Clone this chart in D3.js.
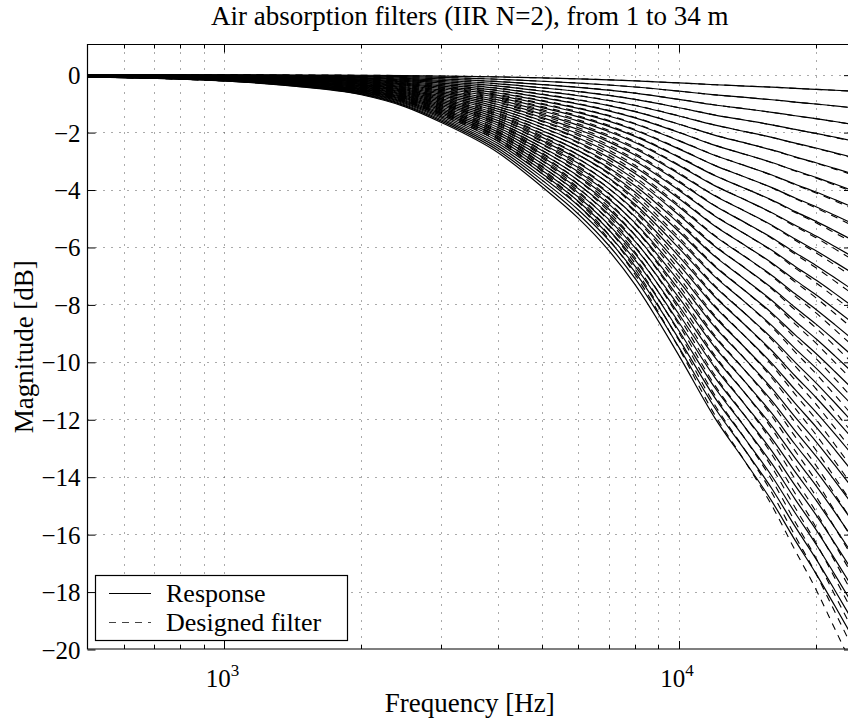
<!DOCTYPE html>
<html>
<head>
<meta charset="utf-8">
<script src="https://cdn.jsdelivr.net/npm/d3@7"></script>
<style>
  body { margin: 0; background: #fff; }
  svg text { font-family: "Liberation Serif", "DejaVu Serif", serif; fill: #000; }
  .tick text { font-size: 25px; }
  .label { font-size: 27px; }
</style>
</head>
<body>
<svg id="chart" width="848" height="722"></svg>
<script>
// distances of the filters, metres (from the title: 1 to 34 m)
const distances = d3.range(1, 35);

// frequency grid, Hz
const freqs = [500, 700, 1000, 1400, 2000, 2500, 3000, 4000, 5000, 6000, 7000,
               8000, 10000, 12000, 14000, 16000, 18000, 20000, 22000, 24000];

const alphaResponse = [0.0024, 0.0038, 0.0065, 0.0115, 0.0206, 0.0330, 0.049, 0.080,
                       0.115, 0.147, 0.180, 0.215, 0.288, 0.352, 0.397, 0.437,
                       0.477, 0.511, 0.544, 0.575];

// error of the designed IIR filter at 34 m (dB, + means less attenuation)
const designErr34 = [0, 0, 0, 0.05, 0.1, 0.18, 0.25, 0.4, 0.45, 0.45, 0.4,
                     0.35, 0.25, 0.1, 0, -0.15, -0.35, -0.55, -0.8, -1.0];

const yTicks = d3.range(-20, 1, 2);
const xMajor = [1000, 10000];
const xMinor = [600, 700, 800, 900, 2000, 3000, 4000, 5000, 6000, 7000, 8000, 9000, 20000];

const legendLabels = ["Response", "Designed filter"];

// setup
const svg = d3.select("#chart");
const plot = {left: 87.5, right: 852, top: 44.5, bottom: 649};

const x = d3.scaleLog()
    .domain([500, 24000])
    .range([plot.left, plot.right]);

const y = d3.scaleLinear()
    .domain([-20, 1.05])
    .range([plot.bottom, plot.top]);

svg.append("clipPath")
    .attr("id", "clip")
  .append("rect")
    .attr("x", plot.left)
    .attr("y", plot.top)
    .attr("width", plot.right - plot.left)
    .attr("height", plot.bottom - plot.top);

// grid
const grid = svg.append("g").attr("class", "grid")
    .attr("stroke", "#555")
    .attr("stroke-width", 1)
    .attr("stroke-dasharray", "1,7");

grid.selectAll("line.gx")
  .data(xMinor.concat(xMajor))
    .enter()
  .append("line")
    .attr("class", "gx")
    .attr("x1", d => Math.round(x(d)) + 0.5)
    .attr("x2", d => Math.round(x(d)) + 0.5)
    .attr("y1", plot.top)
    .attr("y2", plot.bottom);

grid.selectAll("line.gy")
  .data(yTicks.filter(d => d > -20))
    .enter()
  .append("line")
    .attr("class", "gy")
    .attr("x1", plot.left)
    .attr("x2", plot.right)
    .attr("y1", d => Math.round(y(d)) + 0.5)
    .attr("y2", d => Math.round(y(d)) + 0.5);

// curves
const line = d3.line()
    .x(d => x(d[0]))
    .y(d => y(d[1]))
    .curve(d3.curveMonotoneX);

const curves = svg.append("g").attr("clip-path", "url(#clip)");

curves.selectAll("path.response")
  .data(distances)
    .enter()
  .append("path")
    .attr("class", "response")
    .attr("fill", "none")
    .attr("stroke", "#000")
    .attr("stroke-width", 1.2)
    .attr("d", m => line(freqs.map((f, i) => [f, -m * alphaResponse[i]])));

// designed filter error grows with the attenuation it has to fit
curves.selectAll("path.designed")
  .data(distances)
    .enter()
  .append("path")
    .attr("class", "designed")
    .attr("fill", "none")
    .attr("stroke", "#000")
    .attr("stroke-width", 1.1)
    .attr("stroke-dasharray", "7,6")
    .attr("d", m => line(freqs.map((f, i) =>
        [f, -m * alphaResponse[i] + designErr34[i] * (m / 34) * (m / 34)])));

// axes
const fmtY = d => d < 0 ? "\u2212" + Math.abs(d) : String(d);

svg.append("g")
    .attr("transform", `translate(${plot.left},0.5)`)
    .call(d3.axisLeft(y).tickValues(yTicks).tickSize(-8).tickPadding(7).tickFormat(fmtY))
    .call(g => g.select(".domain").remove())
    .call(g => g.selectAll(".tick text").attr("font-size", 25).attr("dy", "0.34em"));

svg.append("g")
    .attr("transform", `translate(${plot.right},0.5)`)
    .call(d3.axisRight(y).tickValues(yTicks).tickSize(-8).tickFormat(""))
    .call(g => g.select(".domain").remove());

// bottom and top ticks
const xTickGroup = svg.append("g").attr("stroke", "#000").attr("stroke-width", 1);
[[xMajor, 8], [xMinor, 4]].forEach(([vals, len]) => {
  vals.forEach(v => {
    const px = Math.round(x(v)) + 0.5;
    xTickGroup.append("line").attr("x1", px).attr("x2", px)
        .attr("y1", plot.bottom).attr("y2", plot.bottom - len);
    xTickGroup.append("line").attr("x1", px).attr("x2", px)
        .attr("y1", plot.top).attr("y2", plot.top + len);
  });
});

// tick labels 10^3, 10^4
const xLabels = svg.append("g");
xMajor.forEach(v => {
  const t = xLabels.append("text")
      .attr("x", x(v) - 2)
      .attr("y", 687)
      .attr("text-anchor", "middle")
      .attr("font-size", 25);
  t.append("tspan").text("10");
  t.append("tspan").attr("font-size", 17).attr("dy", -11).text(Math.log10(v));
});

// box
svg.append("path")
    .attr("fill", "none")
    .attr("stroke", "#000")
    .attr("stroke-width", 1.2)
    .attr("d", `M${plot.right},${plot.top}H${plot.left}V${plot.bottom}H${plot.right}V${plot.top}`);

// titles
svg.append("text")
    .attr("class", "label")
    .attr("x", (plot.left + plot.right) / 2)
    .attr("y", 25)
    .attr("text-anchor", "middle")
    .text("Air absorption filters (IIR N=2), from 1 to 34 m");

svg.append("text")
    .attr("class", "label")
    .attr("x", (plot.left + plot.right) / 2)
    .attr("y", 712)
    .attr("text-anchor", "middle")
    .text("Frequency [Hz]");

svg.append("text")
    .attr("class", "label")
    .attr("transform", `translate(33,${(plot.top + plot.bottom) / 2}) rotate(-90)`)
    .attr("text-anchor", "middle")
    .text("Magnitude [dB]");

// legend
const legend = svg.append("g").attr("class", "legend");

legend.append("rect")
    .attr("x", 95.5)
    .attr("y", 575.5)
    .attr("width", 252)
    .attr("height", 65)
    .attr("fill", "#fff")
    .attr("stroke", "#000")
    .attr("stroke-width", 1.2);

legend.selectAll("g.item")
  .data(legendLabels)
    .enter()
  .append("g")
    .attr("class", "item")
    .attr("transform", (d, i) => `translate(0,${593.5 + i * 29})`)
    .each(function(d, i) {
      const g = d3.select(this);
      g.append("line")
          .attr("x1", 109).attr("x2", 151)
          .attr("stroke", i === 1 ? "#444" : "#000").attr("stroke-width", 1)
          .attr("stroke-dasharray", i === 1 ? "7,6" : null);
      g.append("text")
          .attr("x", 166)
          .attr("dy", "0.33em")
          .attr("font-size", 26)
          .text(d);
    });
</script>
</body>
</html>
